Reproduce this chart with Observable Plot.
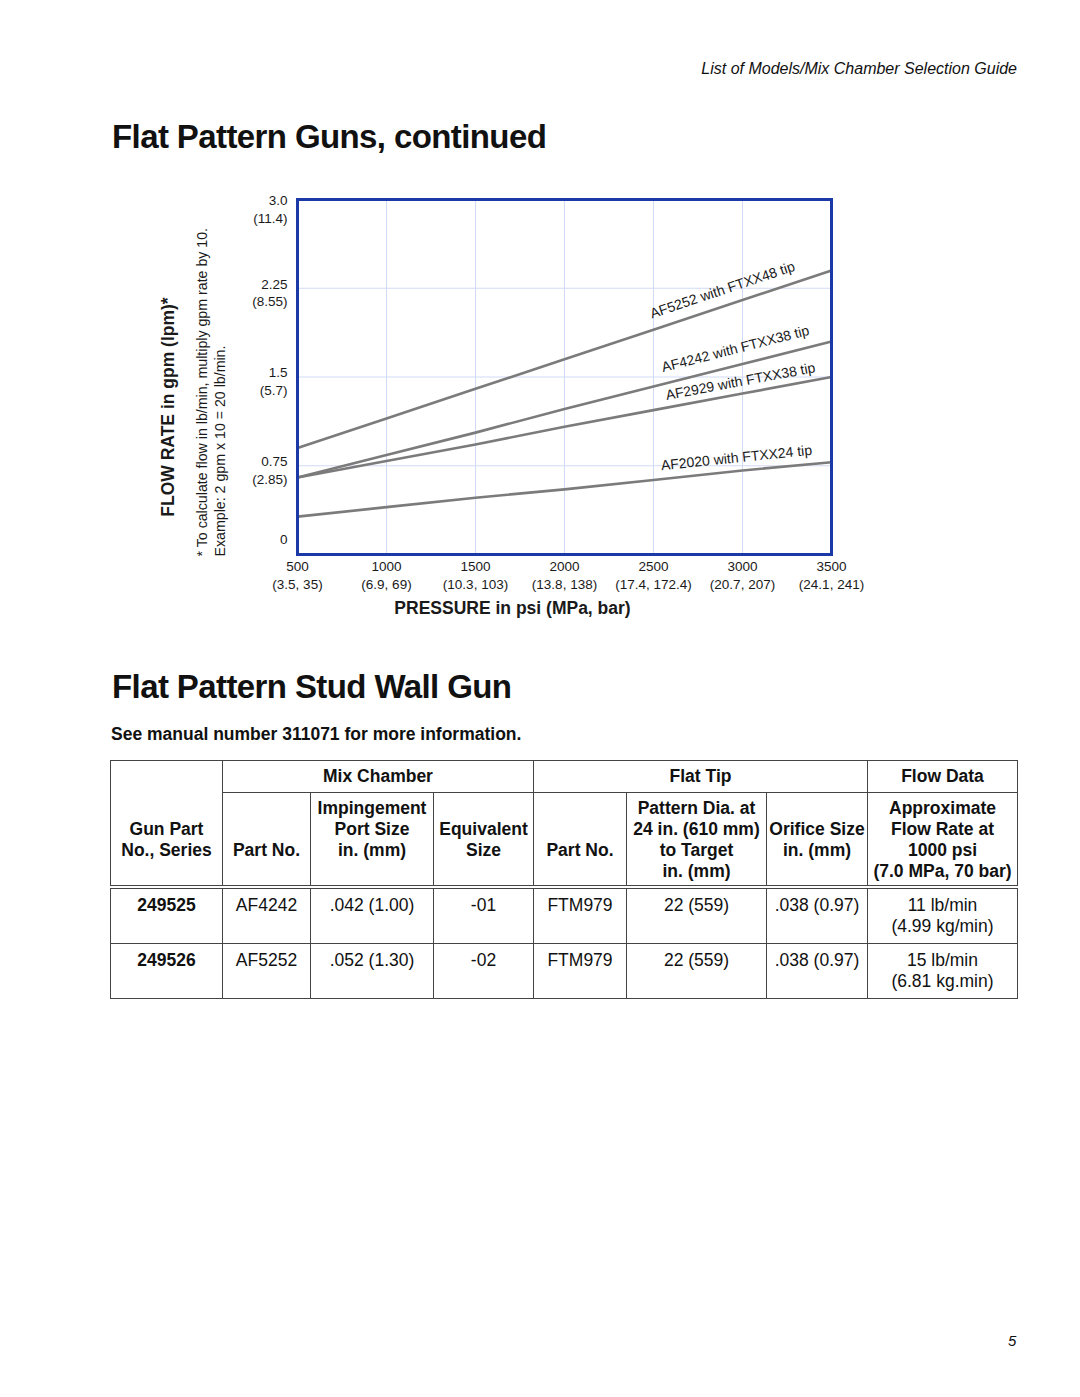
<!DOCTYPE html>
<html><head><meta charset="utf-8">
<script src="https://cdn.jsdelivr.net/npm/d3@7"></script>
<script src="https://cdn.jsdelivr.net/npm/@observablehq/plot@0.6"></script>
<style>
body{margin:0;background:#fff;font-family:"Liberation Sans",Arial,Helvetica,sans-serif;color:#111;}
#page{position:relative;width:1080px;height:1397px;overflow:hidden;background:#fff;}
.abs{position:absolute;white-space:nowrap;line-height:1;}
#hdr{right:63px;top:61px;font-size:16px;font-style:italic;}
.title{left:112px;font-size:33px;font-weight:bold;letter-spacing:-0.6px;}
#t1{top:120px;}
#t2{top:670px;}
#note{left:111px;top:726px;font-size:17.5px;font-weight:bold;}
#chart{position:absolute;left:0;top:180px;}
#pg{left:1008px;top:1333px;font-size:15px;font-style:italic;}
table{position:absolute;left:110px;top:760px;border-collapse:collapse;table-layout:fixed;font-size:17.5px;line-height:21px;}
td{border:1px solid #444;text-align:center;vertical-align:top;padding:0;white-space:nowrap;}
tr.h1 td{height:31px;vertical-align:middle;font-weight:bold;}
tr.h2 td{height:87px;font-weight:bold;padding-top:5px;border-bottom:4px double #444;}
tr.h1 td.gun{font-weight:bold;vertical-align:top;padding-top:58px;border-bottom:4px double #444;}
tr.d td{height:48px;padding-top:6px;}
tr.d td.b{font-weight:bold;}
</style></head>
<body><div id="page">
<div id="hdr" class="abs">List of Models/Mix Chamber Selection Guide</div>
<div id="t1" class="abs title">Flat Pattern Guns, continued</div>
<div id="chart"></div>
<div id="t2" class="abs title">Flat Pattern Stud Wall Gun</div>
<div id="note" class="abs">See manual number 311071 for more information.</div>
<table>
<colgroup><col style="width:112px"><col style="width:88px"><col style="width:123px"><col style="width:100px"><col style="width:93px"><col style="width:140px"><col style="width:101px"><col style="width:150px"></colgroup>
<tr class="h1"><td class="gun" rowspan="2">Gun Part<br>No., Series</td><td colspan="3">Mix Chamber</td><td colspan="3">Flat Tip</td><td>Flow Data</td></tr>
<tr class="h2"><td>&nbsp;<br>&nbsp;<br>Part No.</td><td>Impingement<br>Port Size<br>in. (mm)</td><td>&nbsp;<br>Equivalent<br>Size</td><td>&nbsp;<br>&nbsp;<br>Part No.</td><td>Pattern Dia. at<br>24 in. (610 mm)<br>to Target<br>in. (mm)</td><td>&nbsp;<br>Orifice Size<br>in. (mm)</td><td>Approximate<br>Flow Rate at<br>1000 psi<br>(7.0 MPa, 70 bar)</td></tr>
<tr class="d"><td class="b">249525</td><td>AF4242</td><td>.042 (1.00)</td><td>-01</td><td>FTM979</td><td>22 (559)</td><td>.038 (0.97)</td><td>11 lb/min<br>(4.99 kg/min)</td></tr>
<tr class="d"><td class="b">249526</td><td>AF5252</td><td>.052 (1.30)</td><td>-02</td><td>FTM979</td><td>22 (559)</td><td>.038 (0.97)</td><td>15 lb/min<br>(6.81 kg.min)</td></tr>
</table>
<div id="pg" class="abs">5</div>
</div>
<script>
// ---- chart data ----
const pressure = [500, 1000, 1500, 2000, 2500, 3000, 3500];
const af5252 = [0.90, 1.15, 1.40, 1.65, 1.90, 2.15, 2.40];
const af4242 = [0.65, 0.84, 1.03, 1.23, 1.42, 1.61, 1.80];
const af2929 = [0.65, 0.79, 0.93, 1.08, 1.22, 1.36, 1.50];
const af2020 = [0.32, 0.40, 0.48, 0.55, 0.63, 0.71, 0.78];
const seriesNames = ["AF5252 with FTXX48 tip", "AF4242 with FTXX38 tip", "AF2929 with FTXX38 tip", "AF2020 with FTXX24 tip"];
const xTicks = [500, 1000, 1500, 2000, 2500, 3000, 3500];
const xTickMetric = ["(3.5, 35)", "(6.9, 69)", "(10.3, 103)", "(13.8, 138)", "(17.4, 172.4)", "(20.7, 207)", "(24.1, 241)"];
const yTicks = [0, 0.75, 1.5, 2.25, 3.0];
const yTickLabels = ["0", "0.75", "1.5", "2.25", "3.0"];
const yTickMetric = ["", "(2.85)", "(5.7)", "(8.55)", "(11.4)"];
const xTitle = "PRESSURE in psi (MPa, bar)";
const yTitle = "FLOW RATE in gpm (lpm)*";
const footnote = "* To calculate flow in lb/min, multiply gpm rate by 10.\nExample: 2 gpm x 10 = 20 lb/min.";

// ---- build tables ----
const seriesValues = [af5252, af4242, af2929, af2020];
const rows = [];
seriesValues.forEach((vals, i) => pressure.forEach((p, j) => rows.push({series: seriesNames[i], pressure: p, flow: vals[j]})));
const xTickRows = xTicks.map((v, i) => ({v, label: v + "\n" + xTickMetric[i]}));
const yTickRows = yTicks.map((v, i) => ({v, label: yTickLabels[i] + (yTickMetric[i] ? "\n" + yTickMetric[i] : "")}));

// label styling (offsets relative to the 3000 psi point, rotation along the line)
const labelStyle = [
  {dx: -20, dy: -10, rotate: -18.5},
  {dx: -7, dy: -15, rotate: -14.3},
  {dx: -2, dy: -12, rotate: -10.6},
  {dx: -6, dy: -12.5, rotate: -5.9}
];

const fs = 13.5;
const txt = "#1a1a1a";
const marks = [
  Plot.ruleX(xTicks, {x: d => d, stroke: "#d2dbf6", strokeWidth: 1}),
  Plot.ruleY(yTicks, {y: d => d, stroke: "#d2dbf6", strokeWidth: 1}),
  Plot.line(rows, {x: "pressure", y: "flow", z: "series", stroke: "#7b7b7b", strokeWidth: 2.6}),
  Plot.frame({stroke: "#1c39a8", strokeWidth: 3}),
  // x tick labels
  Plot.text(xTickRows, {x: "v", text: "label", frameAnchor: "bottom", textAnchor: "middle", lineAnchor: "top", dy: 3.5, lineHeight: 1.35, fontSize: fs, fill: txt}),
  // y tick labels
  Plot.text(yTickRows.filter(d => d.v === 3), {y: "v", text: "label", frameAnchor: "left", textAnchor: "end", lineAnchor: "top", dx: -10, dy: -7, lineHeight: 1.3, fontSize: fs, fill: txt}),
  Plot.text(yTickRows.filter(d => d.v > 0 && d.v < 3), {y: "v", text: "label", frameAnchor: "left", textAnchor: "end", lineAnchor: "top", dx: -10, dy: -12, lineHeight: 1.3, fontSize: fs, fill: txt}),
  Plot.text(yTickRows.filter(d => d.v === 0), {y: "v", text: "label", frameAnchor: "left", textAnchor: "end", lineAnchor: "top", dx: -10, dy: -23, lineHeight: 1.3, fontSize: fs, fill: txt}),
  // axis titles
  Plot.text([xTitle], {text: d => d, frameAnchor: "bottom", textAnchor: "middle", lineAnchor: "middle", dx: -52, dy: 54, fontSize: 17.5, fontWeight: "bold", fill: txt}),
  Plot.text([yTitle], {text: d => d, frameAnchor: "left", textAnchor: "middle", lineAnchor: "middle", rotate: -90, dx: -129, dy: 30, fontSize: 17.5, fontWeight: "bold", fill: txt}),
  Plot.text([footnote], {text: d => d, frameAnchor: "bottom-left", rotate: -90, textAnchor: "start", lineAnchor: "middle", dx: -87, dy: 2, lineHeight: 1.28, fontSize: 14.2, fill: txt})
];
seriesNames.forEach((name, i) => {
  const s = labelStyle[i];
  marks.push(Plot.text(rows.filter(d => d.series === name && d.pressure === 3000), {
    x: "pressure", y: "flow", text: "series", rotate: s.rotate, dx: s.dx, dy: s.dy,
    fontSize: 14, fill: txt
  }));
});

const chart = Plot.plot({
  width: 1080,
  height: 450,
  marginLeft: 297,
  marginRight: 249,
  marginTop: 19,
  marginBottom: 76,
  style: {fontFamily: '"Liberation Sans", Arial, Helvetica, sans-serif', background: "transparent", overflow: "visible"},
  x: {domain: [500, 3500], axis: null},
  y: {domain: [0, 3], axis: null},
  marks
});
document.getElementById("chart").appendChild(chart);
</script>
</body></html>
